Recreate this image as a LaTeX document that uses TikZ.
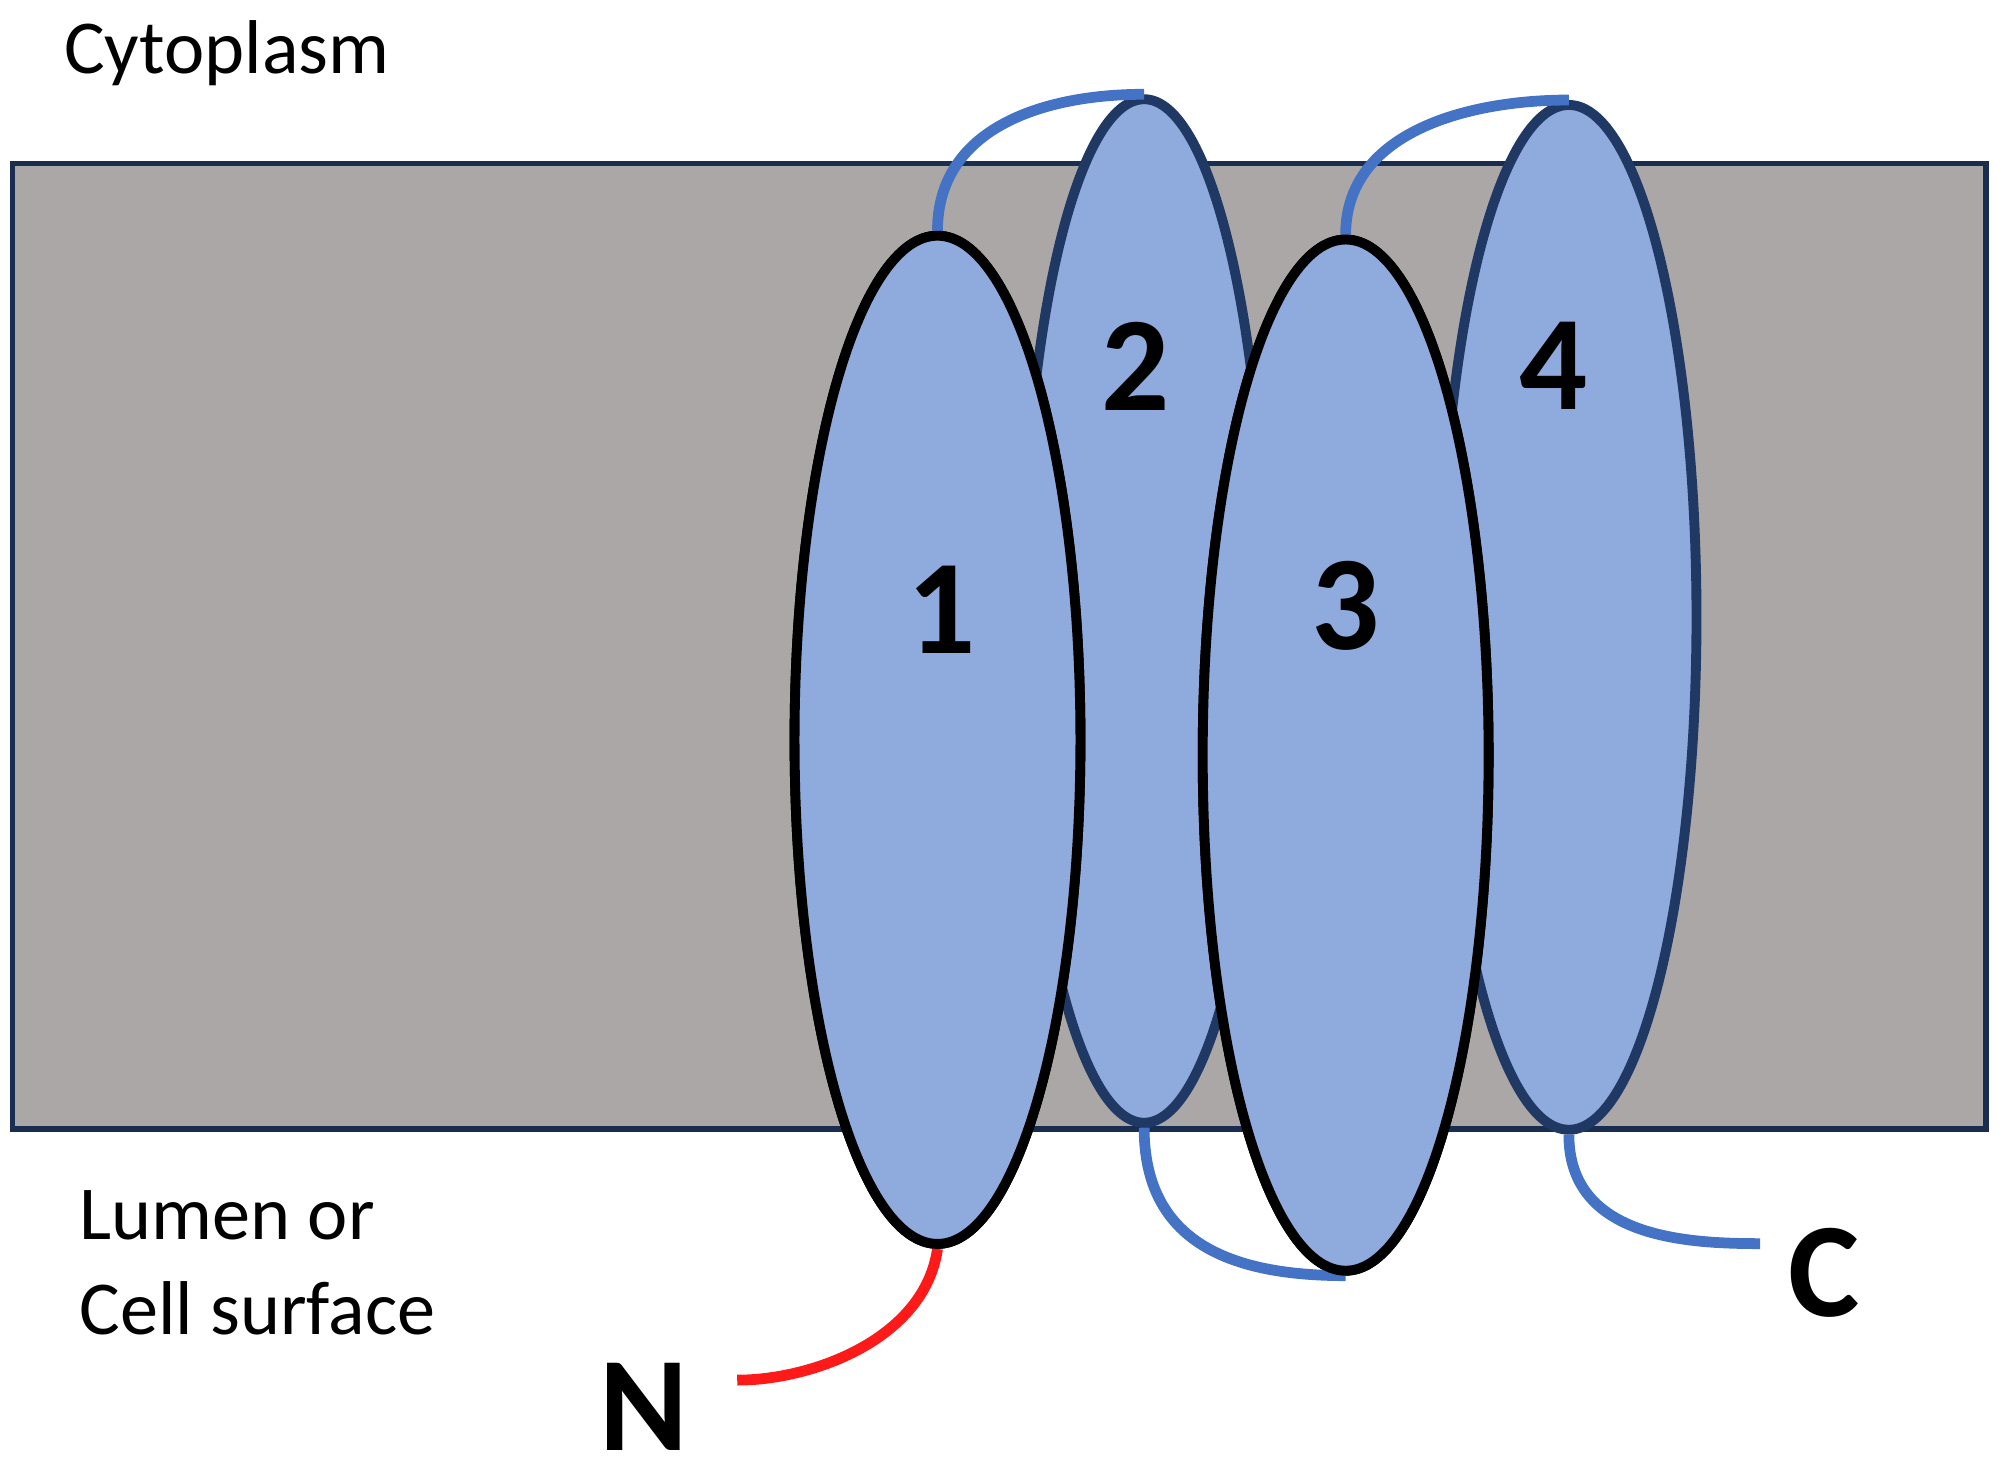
\documentclass[tikz,border=0pt]{standalone}
\usepackage{fontspec}
\setmainfont{Carlito}
\usetikzlibrary{shapes.geometric}
\definecolor{membrane}{HTML}{ABA7A7}
\definecolor{helixfill}{HTML}{8FAADC}
\definecolor{helixback}{HTML}{1F3864}
\definecolor{loopblue}{HTML}{4472C4}
\definecolor{tailred}{HTML}{FF1A1A}

\begin{document}
\begin{tikzpicture}[x=0.01cm,y=-0.01cm]
    \tikzstyle{helix}=[ellipse,fill=helixfill,line width=2.2pt,inner sep=0pt]
    \tikzstyle{front}=[helix,draw=black,minimum width=2.24cm]
    \tikzstyle{loop}=[draw=loopblue,line width=2.4pt]
    \tikzstyle{num}=[font=\fontsize{30}{30}\selectfont\bfseries]
    \tikzstyle{side}=[font=\fontsize{17}{21}\selectfont,anchor=west,align=left]
    \useasboundingbox (0,0) rectangle (1568,1150);
    \draw[fill=membrane,draw=helixback!80!black,line width=1.2pt] (10,128) rectangle (1557,885);
    % helices
    \node[helix,draw=helixback,minimum width=1.9cm,minimum height=8.02cm] (h2) at (897,479) {};
    \node[helix,draw=helixback,minimum width=2cm,minimum height=8.03cm] (h4) at (1230,484) {};
    \node[front,minimum height=7.9cm] (h1) at (735,580) {};
    \node[front,minimum height=8.08cm] (h3) at (1055,592) {};
    % loops
    \coordinate (cend) at (1380,975);
    \coordinate (nend) at (578,1082);
    \draw[loop] (h1.north) .. controls +(0,-80) and +(-80,0) .. (h2.north);
    \draw[loop] (h3.north) .. controls +(0,-80) and +(-80,0) .. (h4.north);
    \draw[loop] (h2.south) .. controls +(0,90) and +(-90,0) .. (h3.south);
    \draw[loop] (h4.south) .. controls +(0,80) and +(-60,0) .. (cend);
    \draw[draw=tailred,line width=2.4pt] (h1.south) .. controls +(-10,70) and +(60,0) .. (nend);
    % front helices again over the loops
    \node[front,minimum height=7.9cm] at (h1) {};
    \node[front,minimum height=8.08cm] at (h3) {};
    % labels
    \node[num] (n1) at (738,478) {1};
    \node[num] (n2) at (890,287) {2};
    \node[num] (n3) at (1055,475) {3};
    \node[num] (n4) at (1218,287) {4};
    \node[num] (nN) at (505,1103) {N};
    \node[num] (nC) at (1430,998) {C};
    \node[side] (cyto) at (38,42) {Cytoplasm};
    \node[side] (lumen) at (50,990) {Lumen or\\Cell surface};
\end{tikzpicture}
\end{document}
